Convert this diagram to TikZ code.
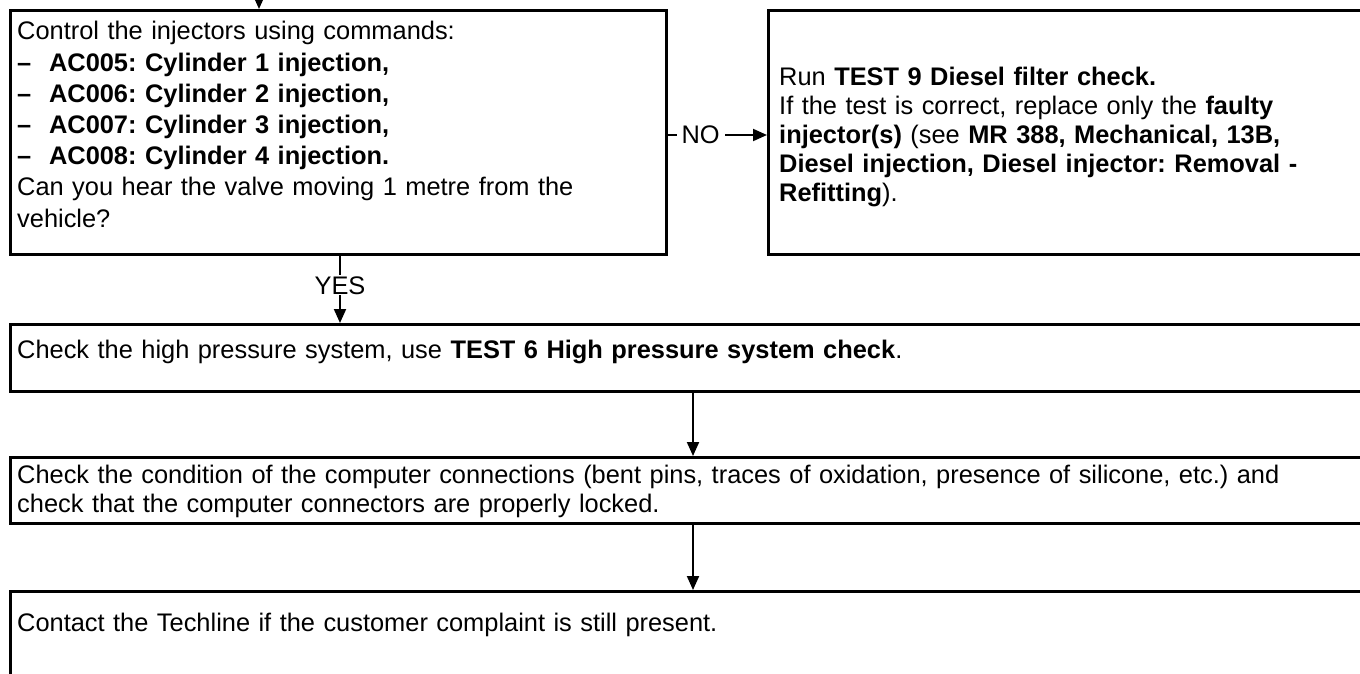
\documentclass[tikz,border=0pt]{standalone}
\usepackage{fontspec}
\setmainfont{Liberation Sans}
\usetikzlibrary{arrows.meta}
\begin{document}
\frenchspacing
\begin{tikzpicture}[x=1pt,y=-1pt,
  box/.style={draw=black,line width=3pt,rectangle,inner sep=0pt,anchor=north west},
  txt/.style={anchor=base west,inner sep=0pt,align=left,font=\fontsize{25.4}{29}\selectfont\frenchspacing},
  conn/.style={line width=2pt,-{Triangle[length=14pt,width=12pt]}},
  lbl/.style={fill=white,inner ysep=1pt,inner xsep=5pt,font=\fontsize{25.4}{29}\selectfont}]
\useasboundingbox (0,0) rectangle (1360,674);
\clip (0,0) rectangle (1360,674);
% boxes
\node[box,minimum width=656pt,minimum height=244pt] (b1) at (9,9) {};
\node[box,minimum width=620pt,minimum height=244pt] (b5) at (767,9) {};
\node[box,minimum width=1380pt,minimum height=67pt] (b2) at (9,323) {};
\node[box,minimum width=1380pt,minimum height=66pt] (b3) at (9,456) {};
\node[box,minimum width=1380pt,minimum height=120pt] (b4) at (9,590) {};
% texts
\node[txt,text width=640pt,font=\fontsize{25.4}{31.2}\selectfont] (t1) at (17,40) {Control the injectors using commands:\\
\textbf{–\hspace{0.7em}AC005: Cylinder 1 injection,}\\
\textbf{–\hspace{0.7em}AC006: Cylinder 2 injection,}\\
\textbf{–\hspace{0.7em}AC007: Cylinder 3 injection,}\\
\textbf{–\hspace{0.7em}AC008: Cylinder 4 injection.}\\
Can you hear the valve moving 1 metre from the\\
vehicle?};
\node[txt,text width=580pt] (t5) at (779,86) {Run \textbf{TEST 9 Diesel filter check.}\\
If the test is correct, replace only the \textbf{faulty}\\
\textbf{injector(s)} (see \textbf{MR 388, Mechanical, 13B,}\\
\textbf{Diesel injection, Diesel injector: Removal -}\\
\textbf{Refitting}).};
\node[txt,text width=1340pt] (t2) at (17,358) {Check the high pressure system, use \textbf{TEST 6 High pressure system check}.};
\node[txt,text width=1340pt] (t3) at (17,483) {Check the condition of the computer connections (bent pins, traces of oxidation, presence of silicone, etc.) and\\
check that the computer connectors are properly locked.};
\node[txt,text width=1340pt] (t4) at (17,631) {Contact the Techline if the customer complaint is still present.};
% connectors
\coordinate (in) at (259,-20);
\coordinate (yx) at (340,0);
\coordinate (ny) at (0,135);
\coordinate (vx) at (693,0);
\draw[conn] (in) -- (in |- b1.north);
\draw[conn] (b1.south -| yx) -- node[lbl,inner xsep=1pt,pos=0.44] (yes) {YES} (b2.north -| yx);
\draw[conn] (b1.east |- ny) -- node[lbl,pos=0.33] (no) {NO} (b5.west |- ny);
\draw[conn] (b2.south -| vx) -- (b3.north -| vx);
\draw[conn] (b3.south -| vx) -- (b4.north -| vx);
\end{tikzpicture}
\end{document}
